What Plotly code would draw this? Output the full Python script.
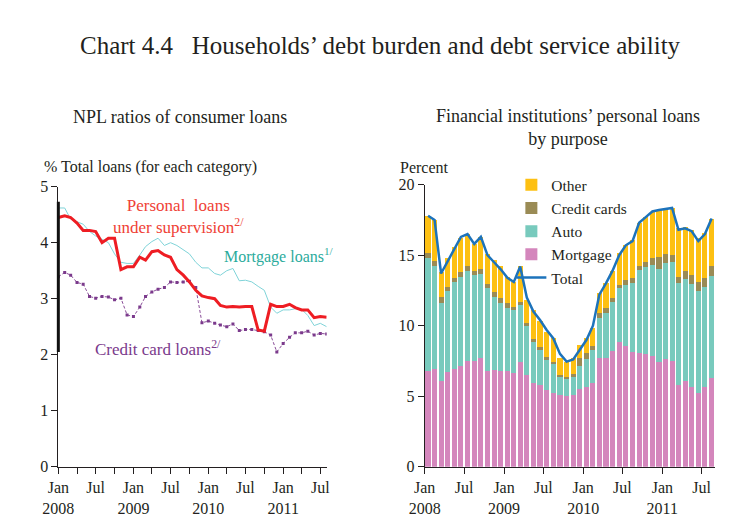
import pandas as pd
import plotly.graph_objects as go

# monthly, Jan 2008 - Aug 2011
months = pd.date_range("2008-01-01", periods=44, freq="MS")

# NPL ratios (% of total loans in each category)
personal_npl = [4.45, 4.48, 4.45, 4.35, 4.22, 4.22, 4.20, 4.00, 4.08, 4.08, 3.52,
                3.57, 3.57, 3.74, 3.69, 3.84, 3.86, 3.78, 3.74, 3.52, 3.42, 3.30,
                3.15, 3.05, 3.02, 3.00, 2.88, 2.85, 2.86, 2.85, 2.86, 2.86, 2.44,
                2.42, 2.90, 2.86, 2.86, 2.90, 2.84, 2.80, 2.80, 2.66, 2.68, 2.67]
mortgage_npl = [4.62, 4.62, 4.42, 4.38, 4.33, 4.20, 4.12, 4.06, 4.00, 3.80, 3.65,
                3.63, 3.63, 3.78, 3.93, 4.02, 4.08, 3.95, 4.00, 3.95, 3.88, 3.80,
                3.65, 3.55, 3.55, 3.45, 3.42, 3.50, 3.54, 3.32, 3.33, 3.30, 3.22,
                3.15, 2.85, 2.74, 2.80, 2.80, 2.82, 2.81, 2.70, 2.52, 2.56, 2.50]
credit_npl = [3.39, 3.47, 3.42, 3.29, 3.26, 3.04, 3.01, 3.04, 3.03, 2.98, 3.01,
              2.71, 2.68, 2.85, 3.04, 3.12, 3.17, 3.20, 3.30, 3.29, 3.30, 3.31,
              3.20, 2.57, 2.60, 2.56, 2.53, 2.50, 2.55, 2.43, 2.45, 2.45, 2.43,
              2.41, 2.35, 2.05, 2.20, 2.31, 2.39, 2.39, 2.42, 2.35, 2.38, 2.37]

# personal loans growth by purpose (percent)
mortgage = [6.81, 6.93, 6.08, 6.74, 6.93, 7.14, 7.50, 7.50, 7.69, 6.81, 6.88,
            6.79, 6.81, 6.64, 7.45, 6.50, 5.91, 5.79, 5.44, 5.25, 5.08, 5.01,
            5.08, 5.49, 5.67, 5.91, 7.69, 7.69, 8.20, 8.87, 8.58, 8.16, 8.09,
            7.99, 7.87, 7.45, 7.64, 7.50, 5.79, 6.10, 5.67, 5.25, 5.63, 6.27]
auto = [7.97, 7.30, 5.55, 5.72, 6.17, 6.31, 6.40, 6.12, 6.00, 5.86, 5.18,
        4.80, 4.45, 4.47, 4.02, 3.50, 2.96, 2.54, 2.18, 2.03, 1.26, 1.26,
        1.26, 1.65, 1.95, 2.37, 2.88, 3.23, 3.50, 3.83, 4.31, 4.84, 5.86,
        6.15, 6.43, 6.55, 6.78, 7.04, 7.21, 7.21, 7.29, 7.21, 7.14, 7.28]
credit_cards = [0.40, 0.38, 0.37, 0.31, 0.30, 0.35, 0.36, 0.28, 0.35, 0.29, 0.35,
                0.35, 0.33, 0.24, 0.23, 0.17, 0.16, 0.14, 0.14, 0.17, 0.16, 0.11,
                0.23, 0.55, 0.42, 0.28, 0.31, 0.31, 0.24, 0.22, 0.35, 0.36, 0.31,
                0.40, 0.48, 0.89, 0.66, 0.47, 0.48, 0.59, 0.64, 0.66, 0.63, 0.68]
other = [2.62, 2.89, 1.83, 2.01, 2.20, 2.44, 2.22, 1.87, 2.27, 2.12, 2.25,
         2.29, 1.89, 1.77, 2.53, 1.65, 2.07, 1.83, 1.81, 1.65, 1.19, 1.07,
         1.12, 0.94, 1.06, 1.26, 1.42, 1.77, 1.96, 2.22, 2.48, 2.72, 3.04,
         3.19, 3.31, 3.31, 3.25, 3.32, 3.42, 3.10, 3.19, 3.08, 3.15, 3.37]
total = [17.8, 17.5, 13.7, 14.6, 15.4, 16.3, 16.5, 15.8, 16.3, 15.0, 14.5,
         14.0, 13.4, 13.1, 14.2, 12.0, 11.0, 10.4, 9.7, 9.1, 8.0, 7.45,
         7.6, 8.3, 9.0, 10.0, 12.2, 13.0, 13.9, 15.0, 15.7, 16.0, 17.3,
         17.7, 18.1, 18.2, 18.3, 18.35, 16.8, 16.9, 16.7, 16.0, 16.5, 17.6]

tick_dates = ["2008-01-01", "2008-07-01", "2009-01-01", "2009-07-01",
              "2010-01-01", "2010-07-01", "2011-01-01", "2011-07-01"]
tick_text = ["Jan<br>2008", "Jul", "Jan<br>2009", "Jul",
             "Jan<br>2010", "Jul", "Jan<br>2011", "Jul"]

SERIF = "Liberation Serif"
TXT = "#231f20"

fig = go.Figure()

# left panel
fig.add_trace(go.Scatter(x=months, y=mortgage_npl, mode="lines", showlegend=False,
                         line=dict(color="#7fd3d8", width=1), xaxis="x", yaxis="y"))
fig.add_trace(go.Scatter(x=months, y=credit_npl, mode="lines+markers", showlegend=False,
                         line=dict(color="#8a4d98", width=1, dash="3px,2px"),
                         marker=dict(symbol="square", size=3, color="#7b3a8c"),
                         xaxis="x", yaxis="y"))
fig.add_trace(go.Scatter(x=months, y=personal_npl, mode="lines", showlegend=False,
                         line=dict(color="#ee1d23", width=3), xaxis="x", yaxis="y"))

# right panel
bar_style = dict(xaxis="x2", yaxis="y2", xperiod="M1", xperiodalignment="middle",
                 marker_line_width=0)
fig.add_trace(go.Bar(x=months, y=mortgage, name="Mortgage", marker_color="#d486bc",
                     legendrank=4, **bar_style))
fig.add_trace(go.Bar(x=months, y=auto, name="Auto", marker_color="#78cabd",
                     legendrank=3, **bar_style))
fig.add_trace(go.Bar(x=months, y=credit_cards, name="Credit cards", marker_color="#9a8b55",
                     legendrank=2, **bar_style))
fig.add_trace(go.Bar(x=months, y=other, name="Other", marker_color="#fdc012",
                     legendrank=1, **bar_style))
fig.add_trace(go.Scatter(x=months, y=total, name="Total", mode="lines",
                         xperiod="M1", xperiodalignment="middle",
                         line=dict(color="#1d73bb", width=2.5), legendrank=5,
                         xaxis="x2", yaxis="y2"))

axis_common = dict(showgrid=False, zeroline=False, showline=True, linecolor=TXT,
                   linewidth=1, ticks="outside", ticklen=6, tickcolor=TXT,
                   automargin=False,
                   tickfont=dict(family=SERIF, size=16, color=TXT))

# the page body has an 8px margin, so the figure sits 8px right/down in the window
fig.update_layout(
    width=737, height=529,
    margin=dict(l=0, r=0, t=0, b=0),
    paper_bgcolor="white", plot_bgcolor="white",
    barmode="stack", bargap=0.2,
    font=dict(family=SERIF, color=TXT),
    xaxis=dict(domain=[0.0683, 0.4324], type="date",
               range=["2008-01-01", "2011-08-01"],
               tickvals=tick_dates, ticktext=tick_text,
               minor=dict(dtick="M3", tick0="2008-01-01", ticks="outside",
                          ticklen=6, tickcolor=TXT),
               anchor="y", **axis_common),
    yaxis=dict(domain=[0.1329, 0.6622], range=[0, 5], dtick=1, anchor="x",
               **axis_common),
    xaxis2=dict(domain=[0.5654, 0.9593], type="date",
                range=["2008-01-01", "2011-09-01"],
                tickvals=tick_dates, ticktext=tick_text,
                anchor="y2", **axis_common),
    yaxis2=dict(domain=[0.1329, 0.666], range=[0, 20], dtick=5, anchor="x2",
                **axis_common),
    legend=dict(x=0.683, y=0.697, xanchor="left", yanchor="top",
                traceorder="normal",
                font=dict(family=SERIF, size=15.5, color=TXT),
                bgcolor="rgba(0,0,0,0)", tracegroupgap=0, itemwidth=30),
)

# thick black segment on the left y axis
fig.add_shape(type="line", xref="x domain", yref="y", x0=0, x1=0, y0=2.05, y1=4.73,
              line=dict(color="#111111", width=3))

ann = [
    dict(text="Chart 4.4   Households’ debt burden and debt service ability",
         x=0.5054, y=0.930, size=25),
    dict(text="NPL ratios of consumer loans", x=0.234, y=0.794, size=18),
    dict(text="Financial institutions’ personal loans<br>by purpose", x=0.760, y=0.775,
         size=18),
]
for a in ann:
    fig.add_annotation(text=a["text"], x=a["x"], y=a["y"], xref="paper", yref="paper",
                       xanchor="center", yanchor="middle", showarrow=False,
                       font=dict(family=SERIF, size=a["size"], color=TXT))

fig.add_annotation(text="% Total loans (for each category)", x=0.0461, y=0.6994,
                   xref="paper", yref="paper", xanchor="left", yanchor="middle",
                   showarrow=False, font=dict(family=SERIF, size=16, color=TXT))
fig.add_annotation(text="Percent", x=0.529, y=0.6994, xref="paper", yref="paper",
                   xanchor="left", yanchor="middle", showarrow=False,
                   font=dict(family=SERIF, size=16, color=TXT))

# series labels on the left panel
fig.add_annotation(text="Personal  loans<br>under supervision<sup>2/</sup>",
                   x="2009-08-10", y=4.47, xref="x", yref="y", showarrow=False,
                   font=dict(family=SERIF, size=17, color="#ef4136"))
fig.add_annotation(text="Mortgage loans<sup>1/</sup>", x="2010-12-10", y=3.77,
                   xref="x", yref="y", showarrow=False,
                   font=dict(family=SERIF, size=16, color="#2bab9c"))
fig.add_annotation(text="Credit card loans<sup>2/</sup>", x="2009-05-01", y=2.12,
                   xref="x", yref="y", showarrow=False,
                   font=dict(family=SERIF, size=17, color="#7b3a8c"))

fig.write_html("out.html")
